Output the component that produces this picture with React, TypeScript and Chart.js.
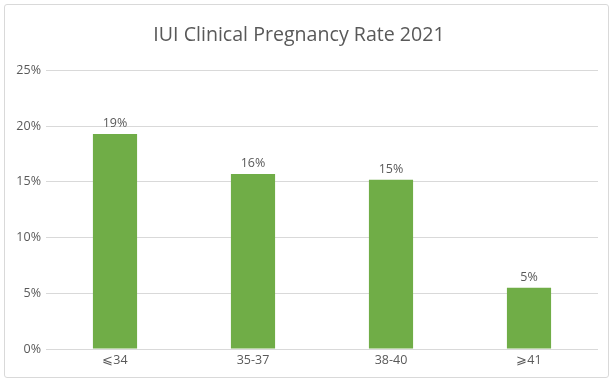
import React, { useEffect, useRef } from "react";
import { Chart, registerables } from "chart.js";

Chart.register(...registerables);

const categories = ["⩽34", "35-37", "38-40", "⩾41"];
const rates = [19.3, 15.7, 15.2, 5.5];
const rateLabels = ["19%", "16%", "15%", "5%"];
const titleText = "IUI Clinical Pregnancy Rate 2021";

const TEXT = "#595959";
const FONT = "'Open Sans', 'Noto Sans', sans-serif";

const barLabels = {
  id: "barLabels",
  afterDatasetsDraw(chart: any) {
    const ctx = chart.ctx;
    const meta = chart.getDatasetMeta(0);
    ctx.save();
    ctx.fillStyle = TEXT;
    ctx.font = `12.5px ${FONT}`;
    ctx.textAlign = "center";
    ctx.textBaseline = "bottom";
    meta.data.forEach((el: any, i: number) => {
      ctx.fillText(rateLabels[i], el.x, el.y - 4);
    });
    ctx.restore();
  },
};

export default function App() {
  const ref = useRef<HTMLCanvasElement>(null);
  useEffect(() => {
    document.body.style.margin = "0";
    const chart = new Chart(ref.current!, {
      type: "bar",
      data: {
        labels: categories,
        datasets: [
          {
            data: rates,
            backgroundColor: "#70AD47",
            barPercentage: 0.32,
            categoryPercentage: 1,
          },
        ],
      },
      plugins: [barLabels],
      options: {
        animation: false,
        responsive: false,
        maintainAspectRatio: false,
        layout: { padding: { left: 0, right: 16, top: 0, bottom: 0 } },
        plugins: {
          legend: { display: false },
          tooltip: { enabled: false },
          title: {
            display: true,
            text: titleText,
            color: TEXT,
            font: { family: FONT, size: 19.6, weight: "normal" },
            padding: { top: 24, bottom: 23 },
          },
        },
        scales: {
          x: {
            grid: { display: false, drawTicks: false },
            border: { display: false },
            ticks: { color: TEXT, font: { family: FONT, size: 12.5 }, padding: 4 },
            afterFit: (s: any) => {
              s.height = 33;
            },
          },
          y: {
            min: 0,
            max: 25,
            ticks: {
              stepSize: 5,
              color: TEXT,
              font: { family: FONT, size: 12.5 },
              padding: 5,
              callback: (v: any) => `${v}%`,
            },
            grid: { color: "#d9d9d9", drawTicks: false },
            border: { display: false },
            afterFit: (s: any) => {
              s.width = 46;
            },
          },
        },
      },
    });
    return () => chart.destroy();
  }, []);
  return (
    <div style={{ position: "relative", width: 614, height: 382, background: "#fff" }}>
      <canvas ref={ref} width={614} height={382} style={{ position: "absolute", left: 0, top: 0 }} />
      <div
        style={{
          position: "absolute",
          left: 4,
          top: 4,
          width: 603,
          height: 372,
          border: "1px solid #d9d9d9",
          borderRadius: 3,
          pointerEvents: "none",
        }}
      />
    </div>
  );
}
